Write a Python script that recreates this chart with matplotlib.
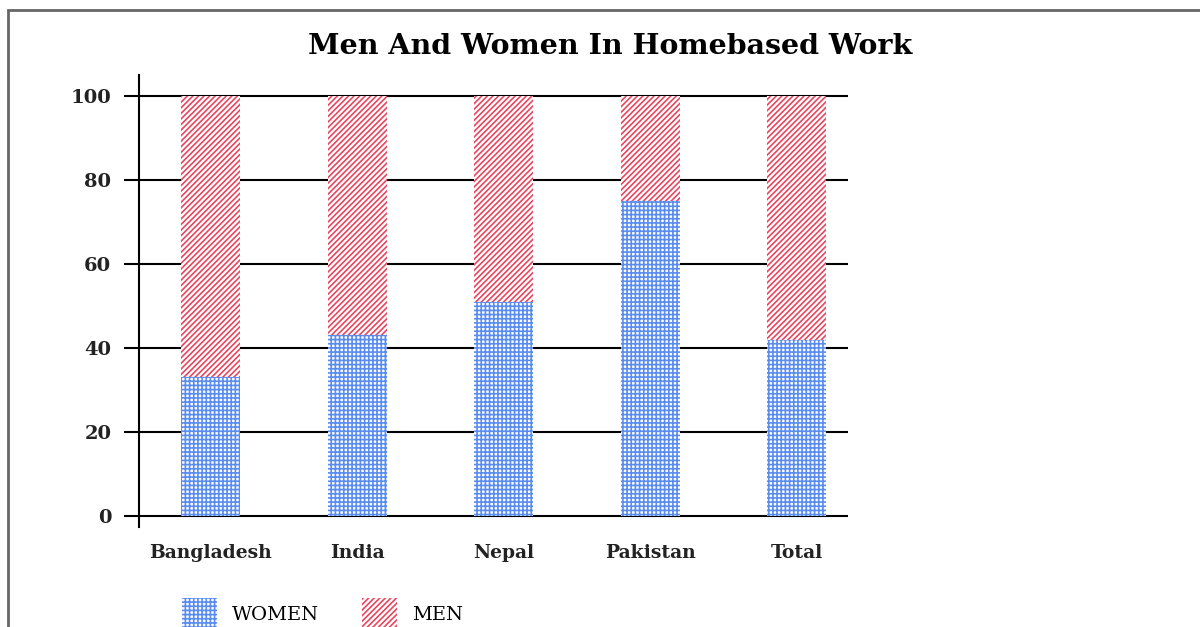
import matplotlib.pyplot as plt
import matplotlib.patches as mpatches
import numpy as np

categories = ["Bangladesh", "India", "Nepal", "Pakistan", "Total"]
women = [33, 43, 51, 75, 42]
men = [100 - w for w in women]
yticks = [0, 20, 40, 60, 80, 100]

BLUE = "#5b8def"
RED = "#e8475f"


def main():
    plt.rcParams["font.family"] = ["DejaVu Serif"]
    plt.rcParams["hatch.linewidth"] = 1.2
    fig = plt.figure(figsize=(12, 6.27), dpi=100)

    # outer frame (only left and top edges are visible)
    fig.patches.append(mpatches.Rectangle((8 / 1200, -0.1), 1.2, 1 - 10 / 627 + 0.1,
                                          transform=fig.transFigure, fill=False,
                                          edgecolor="#666666", linewidth=2))

    ax = fig.add_axes([139 / 1200, 1 - 527 / 627, (848 - 139) / 1200, (527 - 75) / 627])
    x = np.arange(len(categories))
    ax.bar(x, women, width=0.4, color="white", edgecolor=BLUE, hatch="++++",
           linewidth=0, zorder=3)
    ax.bar(x, men, width=0.4, bottom=women, color="white", edgecolor=RED,
           hatch="//////", linewidth=0, zorder=3)

    ax.set_xlim(-0.49, 4.35)
    ax.set_ylim(-2.6, 105)
    ax.set_yticks(yticks)
    ax.set_xticks(x)
    ax.set_xticklabels(categories, fontsize=13.5, fontweight="bold", color="#222222")
    ax.set_yticklabels([str(v) for v in yticks], fontsize=14, fontweight="bold",
                       color="#222222")
    ax.tick_params(axis="y", length=11, width=1.5, pad=9)
    ax.tick_params(axis="x", length=0, pad=12)
    ax.yaxis.grid(True, color="black", linewidth=1.5, zorder=1)
    ax.set_axisbelow(True)
    for s in ["top", "right", "bottom"]:
        ax.spines[s].set_visible(False)
    ax.spines["left"].set_linewidth(1.5)

    fig.text(610 / 1200, 1 - 47 / 627, "Men And Women In Homebased Work",
             ha="center", va="center", fontsize=20.5, fontweight="bold")

    handles = [
        mpatches.Patch(facecolor="white", edgecolor=BLUE, hatch="++++", linewidth=0, label="WOMEN"),
        mpatches.Patch(facecolor="white", edgecolor=RED, hatch="//////", linewidth=0, label="MEN"),
    ]
    fig.legend(handles=handles, loc="upper left", ncol=2, frameon=False,
               bbox_to_anchor=(164 / 1200, 1 - 580 / 627), fontsize=14,
               handlelength=1.8, handleheight=2.2, handletextpad=0.8,
               columnspacing=2.2)

    fig.savefig("out.png", dpi=100)


if __name__ == "__main__":
    main()
